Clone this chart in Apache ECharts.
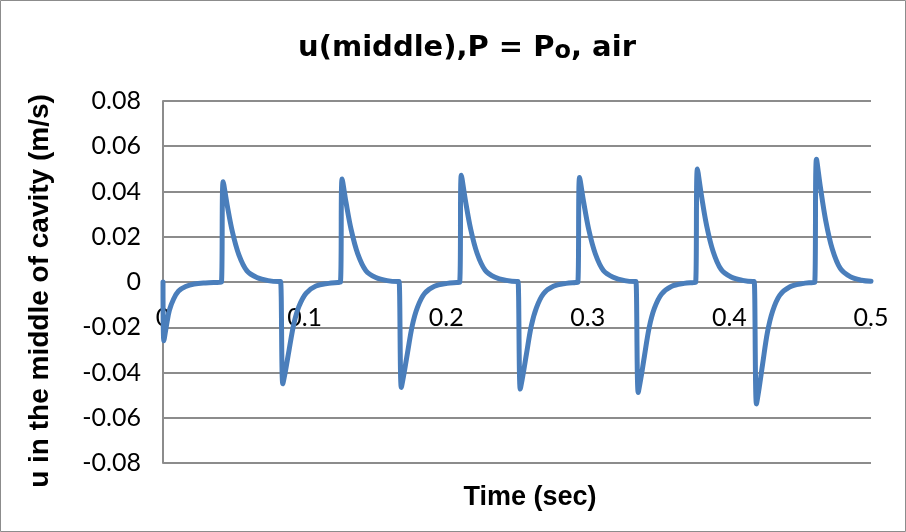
<!DOCTYPE html>
<html>
<head>
<meta charset="utf-8">
<style>
  html, body { margin: 0; padding: 0; background: #ffffff; }
  #chart { width: 906px; height: 532px; }
</style>
<script src="https://cdn.jsdelivr.net/npm/echarts@6/dist/echarts.min.js"></script>
</head>
<body>
<div id="chart"></div>
<script>
// Sample times (s) of the mid-cavity velocity trace
const time = [
  0.0000, 0.0006, 0.0025, 0.0045, 0.0075, 0.0110, 0.0160, 0.0220, 0.0300, 0.0400,
  0.0413, 0.0425, 0.0453, 0.0490, 0.0536, 0.0593, 0.0663, 0.0743, 0.0818,
  0.0830, 0.0846, 0.0865, 0.0890, 0.0924, 0.0960, 0.1010, 0.1080, 0.1170, 0.1235,
  0.1253, 0.1265, 0.1293, 0.1330, 0.1376, 0.1433, 0.1503, 0.1583, 0.1658,
  0.1667, 0.1683, 0.1702, 0.1727, 0.1761, 0.1797, 0.1847, 0.1917, 0.2007, 0.2075,
  0.2095, 0.2107, 0.2135, 0.2172, 0.2218, 0.2275, 0.2345, 0.2425, 0.2498,
  0.2507, 0.2523, 0.2542, 0.2567, 0.2601, 0.2637, 0.2687, 0.2757, 0.2847, 0.2915,
  0.2930, 0.2942, 0.2970, 0.3007, 0.3053, 0.3110, 0.3180, 0.3260, 0.3333,
  0.3340, 0.3356, 0.3375, 0.3400, 0.3434, 0.3470, 0.3520, 0.3590, 0.3680, 0.3748,
  0.3762, 0.3774, 0.3802, 0.3839, 0.3885, 0.3942, 0.4012, 0.4092, 0.4167,
  0.4175, 0.4191, 0.4210, 0.4235, 0.4269, 0.4305, 0.4355, 0.4425, 0.4515, 0.4590,
  0.4603, 0.4615, 0.4643, 0.4680, 0.4726, 0.4783, 0.4853, 0.4933, 0.5000
];

// Velocity u (m/s) in the middle of the cavity at each sample time
const velocity = [
   0.0000, -0.0260, -0.0190, -0.0125, -0.0075, -0.0040, -0.0020, -0.0009, -0.0004, -0.0001,
   0.0000,  0.0443,  0.0341,  0.0222,  0.0120,  0.0049,  0.0020,  0.0006,  0.0002,
   0.0002, -0.0450, -0.0392, -0.0302, -0.0185, -0.0108, -0.0050, -0.0018, -0.0006, -0.0002,
  -0.0001,  0.0455,  0.0350,  0.0228,  0.0123,  0.0050,  0.0020,  0.0006,  0.0002,
   0.0002, -0.0466, -0.0405, -0.0312, -0.0191, -0.0112, -0.0051, -0.0019, -0.0006, -0.0002,
  -0.0001,  0.0472,  0.0363,  0.0236,  0.0127,  0.0052,  0.0021,  0.0007,  0.0002,
   0.0002, -0.0473, -0.0411, -0.0317, -0.0194, -0.0114, -0.0052, -0.0019, -0.0006, -0.0002,
  -0.0001,  0.0462,  0.0356,  0.0231,  0.0125,  0.0051,  0.0021,  0.0006,  0.0002,
   0.0002, -0.0488, -0.0425, -0.0327, -0.0200, -0.0117, -0.0054, -0.0020, -0.0006, -0.0002,
  -0.0001,  0.0499,  0.0384,  0.0250,  0.0135,  0.0055,  0.0022,  0.0007,  0.0002,
   0.0002, -0.0539, -0.0469, -0.0361, -0.0221, -0.0129, -0.0059, -0.0022, -0.0007, -0.0002,
  -0.0001,  0.0543,  0.0418,  0.0272,  0.0147,  0.0060,  0.0024,  0.0008,  0.0003
];

// Axis tick labels
const xTickLabels = ['0', '0.1', '0.2', '0.3', '0.4', '0.5'];
const yTickLabels = ['-0.08', '-0.06', '-0.04', '-0.02', '0', '0.02', '0.04', '0.06', '0.08'];

const xMin = 0, xMax = 0.5, xStep = 0.1;
const yMin = -0.08, yMax = 0.08, yStep = 0.02;

const gridLeft = 163, gridRight = 35, gridTop = 101, gridBottom = 69;
const plotHeight = 532 - gridTop - gridBottom;
// the time axis sits on u = 0, part way up the plot
const zeroShift = plotHeight * (0 - yMin) / (yMax - yMin);

const gridColor = '#8c8c8c';
const lineColor = '#4a7ebb';
const boldFont = '"Liberation Sans", Arial, sans-serif';
const titleFont = '"DejaVu Sans", "Liberation Sans", sans-serif';
const tickFont = 'Lato, "Open Sans", sans-serif';

const chart = echarts.init(document.getElementById('chart'), null, { renderer: 'canvas' });

chart.setOption({
  backgroundColor: '#ffffff',
  animation: false,
  title: {
    text: '{m|u(middle),P = P}{s|o}{m|, air}',
    left: 462,
    top: 27,
    textAlign: 'center',
    textStyle: {
      rich: {
        m: { fontFamily: titleFont, fontWeight: 'bold', fontSize: 29, color: '#000' },
        s: { fontFamily: titleFont, fontWeight: 'bold', fontSize: 24, color: '#000', padding: [8, 0, 0, 0] }
      }
    }
  },
  grid: { left: gridLeft, right: gridRight, top: gridTop, bottom: gridBottom, containLabel: false },
  xAxis: {
    type: 'value',
    min: xMin,
    max: xMax,
    interval: xStep,
    offset: -zeroShift,
    axisLine: { onZero: false, lineStyle: { color: gridColor, width: 2 } },
    axisTick: { show: false },
    splitLine: { show: false },
    axisLabel: {
      margin: 23,
      fontFamily: tickFont,
      fontSize: 25,
      color: '#000',
      formatter: function (v) { return xTickLabels[Math.round((v - xMin) / xStep)]; }
    }
  },
  yAxis: {
    type: 'value',
    min: yMin,
    max: yMax,
    interval: yStep,
    axisLine: { show: true, onZero: false, lineStyle: { color: gridColor, width: 2 } },
    axisTick: { show: false },
    splitLine: { show: true, lineStyle: { color: gridColor, width: 2 } },
    axisLabel: {
      margin: 22,
      fontFamily: tickFont,
      fontSize: 25,
      color: '#000',
      formatter: function (v) { return yTickLabels[Math.round((v - yMin) / yStep)]; }
    }
  },
  graphic: [
    {
      type: 'rect',
      shape: { x: 0.5, y: 0.5, width: 905, height: 531 },
      style: { fill: 'none', stroke: '#8c8c8c', lineWidth: 1 },
      silent: true
    },
    {
      type: 'text',
      x: 40,
      y: 291,
      rotation: Math.PI / 2,
      style: {
        text: 'u in the middle of cavity (m/s)',
        font: 'bold 28px ' + boldFont,
        fill: '#000',
        textAlign: 'center',
        textVerticalAlign: 'middle'
      }
    },
    {
      type: 'text',
      x: 530,
      y: 498,
      style: {
        text: 'Time (sec)',
        font: 'bold 27px ' + boldFont,
        fill: '#000',
        textAlign: 'center',
        textVerticalAlign: 'middle'
      }
    }
  ],
  series: [
    {
      type: 'line',
      data: time.map(function (t, i) { return [t, velocity[i]]; }),
      showSymbol: false,
      smooth: 0.35,
      lineStyle: { color: lineColor, width: 5, cap: 'round', join: 'round' },
      itemStyle: { color: lineColor }
    }
  ]
});
</script>
</body>
</html>
